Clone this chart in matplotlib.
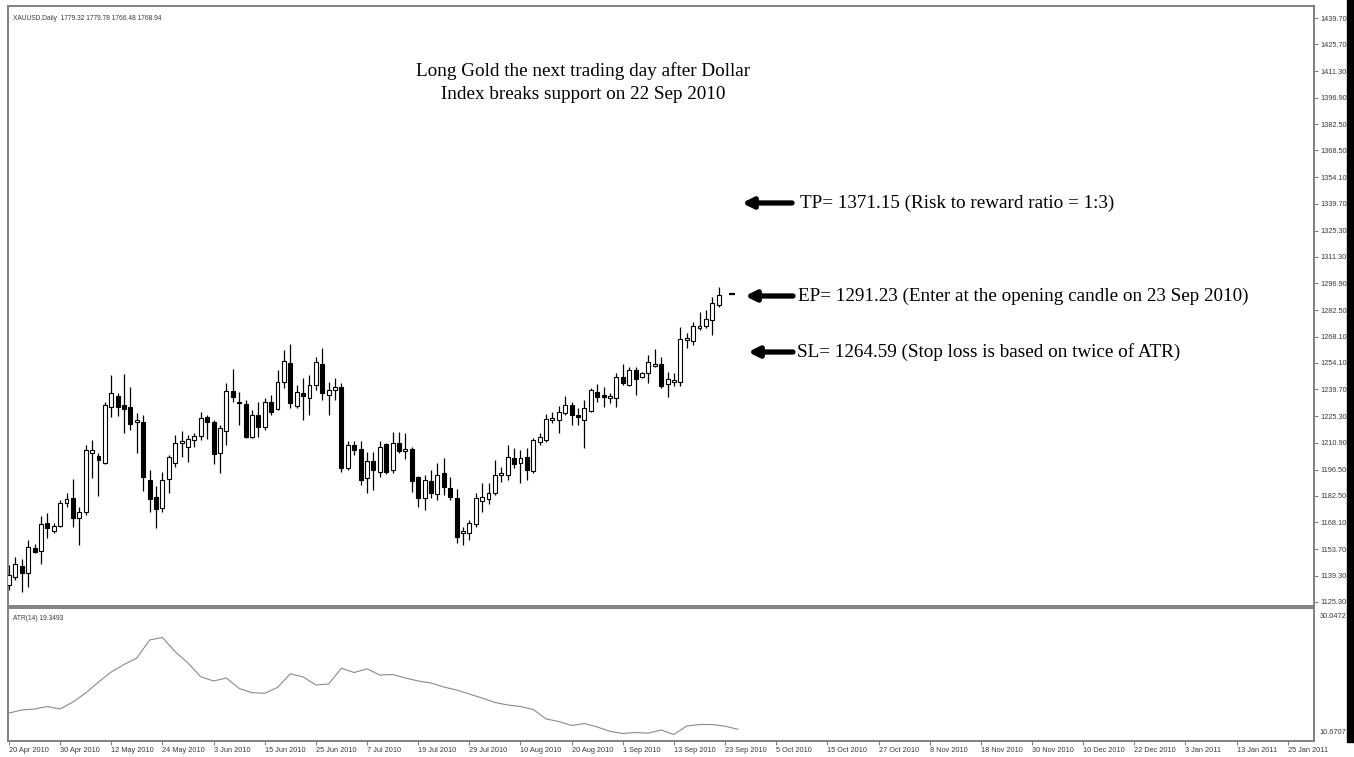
import matplotlib.pyplot as plt
import numpy as np

plt.rcParams['font.family'] = ['Liberation Sans', 'DejaVu Sans']

# XAUUSD daily candles, 20 Apr 2010 .. 22 Sep 2010
opens = [1134.3, 1138.6, 1144.5, 1140.8, 1154.2, 1152.6, 1167.7, 1163.4, 1166.1, 1178.5,
         1181.2, 1170.4, 1173.6, 1205.4, 1203.8, 1200.1, 1230.2, 1236.2, 1231.3, 1230.2,
         1222.1, 1222.1, 1190.9, 1181.7, 1175.8, 1191.4, 1200.1, 1210.8, 1208.7, 1212.4,
         1214.6, 1224.8, 1222.1, 1205.4, 1217.3, 1238.9, 1232.4, 1231.8, 1214.1, 1225.9,
         1219.5, 1232.9, 1229.2, 1243.7, 1253.9, 1230.8, 1237.8, 1235.1, 1242.1, 1253.4,
         1236.7, 1239.4, 1241.0, 1197.4, 1209.8, 1207.6, 1192.0, 1201.1, 1195.2, 1210.3,
         1196.3, 1210.8, 1206.5, 1207.6, 1192.5, 1181.2, 1190.4, 1183.3, 1194.7, 1186.6,
         1181.2, 1162.3, 1162.3, 1167.2, 1179.6, 1180.6, 1183.9, 1193.6, 1193.6, 1202.7,
         1200.1, 1203.3, 1195.7, 1211.4, 1212.4, 1223.2, 1223.2, 1227.0, 1231.3, 1225.9,
         1223.2, 1228.1, 1238.3, 1236.7, 1235.1, 1235.1, 1246.4, 1242.1, 1250.2, 1246.4,
         1248.6, 1252.3, 1253.4, 1242.6, 1243.7, 1243.7, 1266.3, 1265.8, 1272.8, 1273.9,
         1277.1, 1285.2]
highs = [1145.1, 1149.4, 1148.3, 1158.6, 1156.4, 1171.5, 1173.1, 1167.7, 1180.1, 1183.9,
         1191.4, 1176.3, 1209.8, 1212.4, 1205.4, 1232.9, 1247.5, 1237.8, 1248.0, 1241.0,
         1227.0, 1225.9, 1196.3, 1187.7, 1195.2, 1204.4, 1215.1, 1217.3, 1215.1, 1216.2,
         1227.5, 1225.9, 1223.2, 1220.5, 1243.2, 1250.7, 1238.3, 1234.0, 1228.6, 1232.9,
         1235.1, 1236.7, 1250.2, 1261.0, 1264.2, 1242.1, 1245.9, 1247.5, 1257.2, 1262.0,
         1243.7, 1245.9, 1243.2, 1211.9, 1211.9, 1211.9, 1206.0, 1206.0, 1211.9, 1210.8,
         1216.8, 1216.8, 1216.2, 1208.7, 1193.0, 1193.6, 1196.3, 1200.1, 1202.7, 1192.5,
         1186.0, 1165.6, 1169.3, 1183.9, 1189.3, 1189.3, 1201.7, 1197.9, 1209.8, 1208.1,
         1207.1, 1208.1, 1213.5, 1216.2, 1226.5, 1227.5, 1230.8, 1236.2, 1232.9, 1229.7,
         1234.0, 1240.5, 1242.6, 1241.0, 1237.8, 1248.6, 1253.4, 1251.8, 1251.8, 1249.1,
         1258.3, 1261.5, 1257.2, 1249.1, 1248.6, 1273.3, 1270.1, 1276.0, 1281.4, 1282.5,
         1289.5, 1294.9]
lows = [1131.6, 1137.0, 1130.5, 1133.2, 1151.5, 1145.6, 1159.6, 1162.3, 1165.6, 1176.3,
        1165.6, 1155.9, 1172.0, 1192.0, 1182.3, 1199.5, 1224.8, 1225.4, 1216.2, 1217.8,
        1205.4, 1185.0, 1173.6, 1165.0, 1173.6, 1183.9, 1197.9, 1203.3, 1200.6, 1208.7,
        1212.4, 1213.0, 1199.5, 1194.7, 1209.8, 1232.9, 1220.5, 1213.5, 1213.5, 1214.1,
        1217.8, 1225.9, 1228.6, 1240.5, 1229.7, 1229.7, 1223.2, 1225.9, 1239.4, 1234.0,
        1225.9, 1234.0, 1195.2, 1196.3, 1204.4, 1188.2, 1183.9, 1185.5, 1192.5, 1194.1,
        1194.7, 1205.4, 1202.2, 1184.4, 1176.3, 1174.7, 1181.2, 1180.1, 1182.8, 1180.1,
        1156.9, 1155.9, 1158.6, 1165.6, 1173.6, 1178.0, 1182.8, 1189.8, 1190.9, 1197.4,
        1189.3, 1190.9, 1194.7, 1209.8, 1211.4, 1221.6, 1216.2, 1225.9, 1220.5, 1220.5,
        1208.1, 1227.5, 1232.9, 1230.2, 1232.4, 1230.2, 1242.1, 1241.6, 1236.7, 1245.9,
        1243.2, 1251.8, 1240.5, 1235.6, 1241.6, 1241.6, 1262.0, 1263.6, 1271.7, 1272.8,
        1269.0, 1284.1]
closes = [1139.7, 1145.6, 1140.8, 1154.8, 1152.1, 1167.2, 1165.0, 1166.1, 1178.5, 1180.6,
          1170.4, 1173.6, 1207.1, 1207.1, 1201.7, 1231.3, 1237.8, 1230.2, 1229.2, 1221.1,
          1223.2, 1192.5, 1180.6, 1175.3, 1190.9, 1203.3, 1210.8, 1211.9, 1213.0, 1214.6,
          1224.3, 1222.1, 1204.9, 1218.9, 1238.9, 1235.6, 1232.9, 1214.1, 1225.9, 1219.5,
          1232.9, 1227.5, 1243.7, 1255.0, 1232.4, 1238.3, 1236.2, 1242.1, 1254.5, 1237.8,
          1239.4, 1241.0, 1197.4, 1209.8, 1207.1, 1190.9, 1201.1, 1196.3, 1208.7, 1195.2,
          1210.8, 1206.5, 1207.6, 1190.4, 1181.2, 1190.9, 1183.9, 1193.6, 1187.1, 1181.7,
          1160.2, 1163.4, 1167.7, 1181.2, 1181.7, 1183.9, 1193.6, 1194.7, 1203.3, 1199.5,
          1202.7, 1196.3, 1212.4, 1214.1, 1223.8, 1224.3, 1227.5, 1231.3, 1225.9, 1224.8,
          1229.7, 1239.4, 1235.6, 1235.6, 1236.2, 1246.4, 1243.2, 1250.2, 1245.3, 1248.6,
          1254.5, 1253.4, 1241.6, 1245.3, 1244.8, 1266.9, 1267.4, 1273.9, 1273.9, 1277.7,
          1286.3, 1290.6]

# ATR(14), one reading every second bar
atr = [14.66, 15.11, 15.26, 15.62, 15.26, 16.29, 17.62, 19.25, 20.73, 21.84,
       22.80, 25.46, 25.83, 23.73, 22.06, 20.02, 19.40, 19.84, 18.29, 17.67,
       17.58, 18.44, 20.46, 19.99, 18.81, 18.95, 21.28, 20.65, 21.20, 20.28,
       20.36, 19.84, 19.40, 19.10, 18.51, 18.07, 17.47, 16.88, 16.22, 15.85,
       15.62, 15.18, 13.78, 13.41, 12.81, 13.11, 12.59, 11.96, 11.63, 11.78,
       11.68, 12.15, 11.48, 12.74, 12.96, 12.96, 12.71, 12.25]
atr_step = 2

price_ticks = [1125.30, 1139.30, 1153.70, 1168.10, 1182.50, 1196.50, 1210.90, 1225.30,
               1239.70, 1254.10, 1268.10, 1282.50, 1296.90, 1311.30, 1325.30, 1339.70,
               1354.10, 1368.50, 1382.50, 1396.90, 1411.30, 1425.70, 1439.70]
date_labels = ['20 Apr 2010', '30 Apr 2010', '12 May 2010', '24 May 2010', '3 Jun 2010',
               '15 Jun 2010', '25 Jun 2010', '7 Jul 2010', '19 Jul 2010', '29 Jul 2010',
               '10 Aug 2010', '20 Aug 2010', '1 Sep 2010', '13 Sep 2010', '23 Sep 2010',
               '5 Oct 2010', '15 Oct 2010', '27 Oct 2010', '8 Nov 2010', '18 Nov 2010',
               '30 Nov 2010', '10 Dec 2010', '22 Dec 2010', '3 Jan 2011', '13 Jan 2011',
               '25 Jan 2011']
date_step = 8

ep_price = 1291.23
atr_range = (10.6707, 30.0472)

frame = '#808080'
label_col = '#3a3a3a'

fig = plt.figure(figsize=(13.54, 7.57), dpi=100)
ax = fig.add_axes([0.00554, 0.19947, 0.9649, 0.7926])
ax2 = fig.add_axes([0.00554, 0.02114, 0.9649, 0.17569], sharex=ax)

o = np.array(opens)
h = np.array(highs)
l = np.array(lows)
c = np.array(closes)
x = np.arange(len(o))
up = c >= o

# candles: wick first, body on top
ax.vlines(x, l, h, color='black', lw=0.9, zorder=2)
ax.bar(x, np.maximum(np.abs(c - o), 0.7), bottom=np.minimum(o, c), width=0.62,
       color=np.where(up, 'white', 'black'), edgecolor='black', linewidth=0.8, zorder=3)

# entry level dash on the next bar
n = len(o)
ax.hlines(ep_price, n + 0.55, n + 1.5, color='black', lw=1.6)

ax.set_xlim(-0.23, 204.1)
ax.set_ylim(1122.99, 1446.33)
ax.yaxis.tick_right()
ax.set_yticks(price_ticks)
ax.set_yticklabels([f'{v:.2f}' for v in price_ticks])
ax.tick_params(axis='y', direction='out', length=3, width=0.8, color=frame,
               labelsize=5.3, labelcolor=label_col, pad=2)
ax.tick_params(axis='x', bottom=False, labelbottom=False)

ax.text(0.004, 0.985, 'XAUUSD,Daily  1779.32 1779.78 1766.48 1768.94', transform=ax.transAxes,
        fontsize=4.8, color=label_col, va='top', ha='left')

serif = ['Liberation Serif', 'DejaVu Serif']
ax.text(0.4405, 0.8725, 'Long Gold the next trading day after Dollar\nIndex breaks support on 22 Sep 2010',
        transform=ax.transAxes, ha='center', va='center', fontsize=13.8, family=serif,
        linespacing=1.42)

notes = [
    (0.6717, 0.5622, 0.6005, 0.6066, 'TP= 1371.15 (Risk to reward ratio = 1:3)'),
    (0.5167, 0.5645, 0.6012, 0.6051, 'EP= 1291.23 (Enter at the opening candle on 23 Sep 2010)'),
    (0.4233, 0.5668, 0.6012, 0.6043, 'SL= 1264.59 (Stop loss is based on twice of ATR)'),
]
for yy, tip, tail, tx, txt in notes:
    ax.annotate('', xy=(tip, yy), xytext=(tail, yy), xycoords='axes fraction',
                arrowprops=dict(arrowstyle='-|>', lw=3.8, color='black',
                                mutation_scale=15, shrinkA=0, shrinkB=0))
    ax.text(tx, yy, txt, transform=ax.transAxes, ha='left', va='center',
            fontsize=13.8, family=serif)

# ATR panel
ax2.plot(np.arange(len(atr)) * atr_step, atr, color='#8a8a8a', lw=0.8)
pad = (atr_range[1] - atr_range[0]) / 131
ax2.set_ylim(atr_range[0] - pad, atr_range[1] + pad)
ax2.set_yticks([])
ax2.text(1.004, 0.96, f'{atr_range[1]:.4f}', transform=ax2.transAxes, fontsize=5.3,
         color=label_col, va='top', ha='left')
ax2.text(1.004, 0.04, f'{atr_range[0]:.4f}', transform=ax2.transAxes, fontsize=5.3,
         color=label_col, va='bottom', ha='left')
ax2.text(0.004, 0.95, 'ATR(14) 19.3493', transform=ax2.transAxes, fontsize=4.8,
         color=label_col, va='top', ha='left')

ax2.set_xticks(np.arange(len(date_labels)) * date_step)
ax2.set_xticklabels(date_labels, ha='left')
ax2.tick_params(axis='x', direction='out', length=3, width=0.8, color=frame,
                labelsize=5.3, labelcolor=label_col, pad=1.5)

for a in (ax, ax2):
    for s in a.spines.values():
        s.set_color(frame)
        s.set_linewidth(1.4)

# dark edge down the right side of the window
fig.patches.append(plt.Rectangle((0.9948, 0.02), 0.0052, 0.98, transform=fig.transFigure,
                                 color='black', zorder=0))

fig.savefig('out.png', dpi=100, facecolor='white')
